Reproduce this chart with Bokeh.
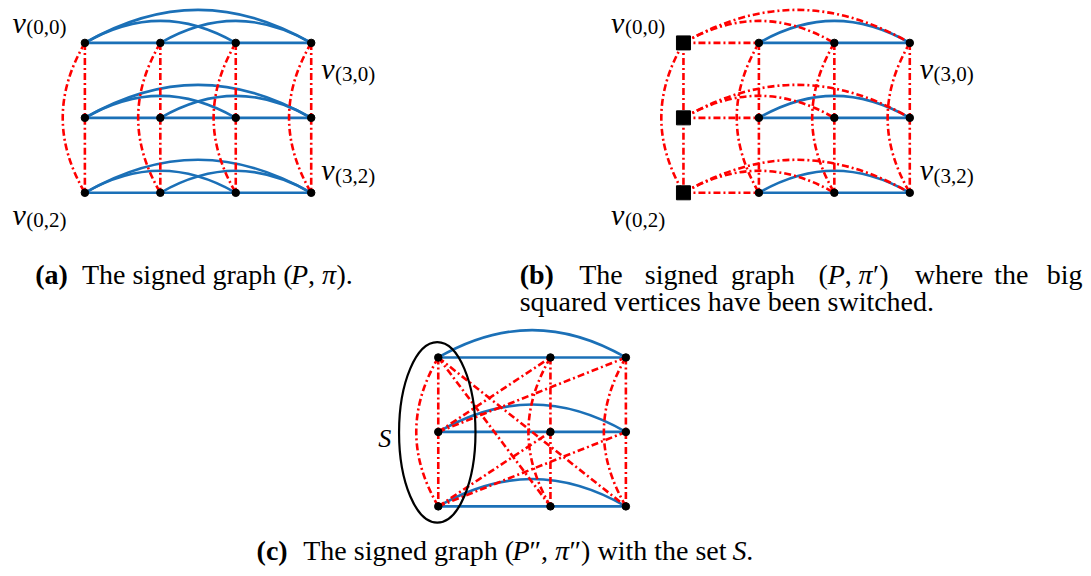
import numpy as np
from bokeh.plotting import figure
from bokeh.models import Range1d
from bokeh.embed import file_html
from bokeh.resources import INLINE
from bokeh.core.properties import value

# ---------------- data ----------------
grid_cols = [0, 1, 2, 3]
grid_rows = [0, 1, 2]
row_lines = [(0, 1), (1, 2), (2, 3)]      # positive row edges drawn straight
row_bends = [(0, 2), (1, 3), (0, 3)]      # positive row edges drawn bent
col_lines = [(0, 1), (1, 2)]              # negative column edges drawn straight
col_bends = [(0, 2)]                      # negative column edge drawn bent
switched_cols = [0]                       # panel (b): switched (squared) vertices
c_cols = [0, 2, 3]                        # panel (c) columns
c_row_lines = [(0, 2), (2, 3)]
c_row_bends = [(0, 3)]
c_cross = [(0, 0, 2, 2), (0, 0, 3, 2), (0, 1, 2, 0),
           (0, 1, 3, 0), (0, 2, 2, 1), (0, 2, 3, 1)]   # (col, row) -> (col, row)
set_cols = [0]
corner_nodes = [(0, 0), (3, 0), (3, 2), (0, 2)]
corner_labels = ["(0,0)", "(3,0)", "(3,2)", "(0,2)"]
set_label = "S"

# ---------------- layout ----------------
A_X0, B_X0, AB_Y0, STEP = 85, 688, 43, 76
C_X = {0: 441, 2: 554, 3: 630}
C_Y0, C_STEP = 362, 75.5
LABEL_OFF = {(0, 0): (-73, -21, -59, -16), (3, 0): (10, 25.5, 24, 32),
             (3, 2): (10, -23.5, 24, -17), (0, 2): (-73, 22, -59, 28)}
BLUE, RED = "#1b70b7", "#ff0000"
LW = 2.6
DASH = "7 3 2 3"
FONT = value("Liberation Serif")

blue_seg, red_seg, blue_bez, red_bez = [], [], [], []


def bend(p0, p1, normal, angle=30.0, loose=0.3915):
    p0 = np.array(p0, float)
    p1 = np.array(p1, float)
    d = p1 - p0
    L = np.hypot(*d)
    u = d / L
    n = np.array(normal, float)
    a = np.radians(angle)
    k = loose * L
    c0 = p0 + k * (np.cos(a) * u + np.sin(a) * n)
    c1 = p1 + k * (-np.cos(a) * u + np.sin(a) * n)
    return (p0[0], p0[1], p1[0], p1[1], c0[0], c0[1], c1[0], c1[1])


def add_edge(p0, p1, positive, bent, normal):
    if bent:
        (blue_bez if positive else red_bez).append(bend(p0, p1, normal))
    else:
        (blue_seg if positive else red_seg).append((p0[0], p0[1], p1[0], p1[1]))


def grid_panel(x0, switched):
    pos = lambda c, r: (x0 + STEP * c, AB_Y0 + STEP * r)
    for r in grid_rows:
        for edges, bent in ((row_lines, False), (row_bends, True)):
            for c1, c2 in edges:
                flip = (c1 in switched) != (c2 in switched)
                add_edge(pos(c1, r), pos(c2, r), not flip, bent, (0, -1))
    for c in grid_cols:
        for edges, bent in ((col_lines, False), (col_bends, True)):
            for r1, r2 in edges:
                add_edge(pos(c, r1), pos(c, r2), False, bent, (-1, 0))
    return pos


pos_a = grid_panel(A_X0, [])
pos_b = grid_panel(B_X0, switched_cols)
pos_c = lambda c, r: (C_X[c], C_Y0 + C_STEP * r)
for r in grid_rows:
    for c1, c2 in c_row_lines:
        add_edge(pos_c(c1, r), pos_c(c2, r), True, False, (0, -1))
    for c1, c2 in c_row_bends:
        add_edge(pos_c(c1, r), pos_c(c2, r), True, True, (0, -1))
for c in c_cols:
    for r1, r2 in col_lines:
        add_edge(pos_c(c, r1), pos_c(c, r2), False, False, (-1, 0))
    for r1, r2 in col_bends:
        add_edge(pos_c(c, r1), pos_c(c, r2), False, True, (-1, 0))
for c1, r1, c2, r2 in c_cross:
    add_edge(pos_c(c1, r1), pos_c(c2, r2), False, False, None)

p = figure(width=1083, height=568, x_range=Range1d(0, 1091), y_range=Range1d(576, 0),
           output_backend="svg", toolbar_location=None, min_border=0,
           x_axis_location=None, y_axis_location=None)
p.grid.visible = False
p.outline_line_color = None


def draw_seg(lst, color, dash):
    a = np.array(lst)
    p.segment(a[:, 0], a[:, 1], a[:, 2], a[:, 3], line_color=color, line_width=LW, line_dash=dash)


def draw_bez(lst, color, dash):
    a = np.array(lst)
    p.bezier(x0=a[:, 0], y0=a[:, 1], x1=a[:, 2], y1=a[:, 3], cx0=a[:, 4], cy0=a[:, 5],
             cx1=a[:, 6], cy1=a[:, 7], line_color=color, line_width=LW, line_dash=dash)


draw_seg(blue_seg, BLUE, "solid")
draw_bez(blue_bez, BLUE, "solid")
draw_seg(red_seg, RED, DASH)
draw_bez(red_bez, RED, DASH)

# set S ellipse
sx = [pos_c(c, 1)[0] - 1 for c in set_cols]
sy = [pos_c(c, 1)[1] + 0.5 for c in set_cols]
p.ellipse(x=sx, y=sy, width=77, height=183, fill_color=None, line_color="black", line_width=2.2)

# vertices
nx, ny = [], []
sqx, sqy = [], []
for pos, sw in ((pos_a, []), (pos_b, switched_cols)):
    for c in grid_cols:
        for r in grid_rows:
            x, y = pos(c, r)
            (sqx if c in sw else nx).append(x)
            (sqy if c in sw else ny).append(y)
for c in c_cols:
    for r in grid_rows:
        x, y = pos_c(c, r)
        nx.append(x)
        ny.append(y)
p.scatter(nx, ny, size=7.5, color="black")
p.scatter(sqx, sqy, marker="square", size=14, color="black")

# vertex labels
vx, vy, sbx, sby, sbt = [], [], [], [], []
for pos in (pos_a, pos_b):
    for node, lab in zip(corner_nodes, corner_labels):
        x, y = pos(*node)
        o = LABEL_OFF[node]
        vx.append(x + o[0]); vy.append(y + o[1])
        sbx.append(x + o[2]); sby.append(y + o[3]); sbt.append(lab)
p.text(vx, vy, text=["v"] * len(vx), text_font=FONT, text_font_style="italic",
       text_font_size="30px", text_baseline="alphabetic", text_align="left", text_color="black")
p.text(sbx, sby, text=sbt, text_font=FONT, text_font_size="21px",
       text_baseline="alphabetic", text_align="left", text_color="black")
p.text([sx[0] - 53], [sy[0] + 6], text=[set_label], text_font=FONT, text_font_style="italic",
       text_font_size="26px", text_baseline="alphabetic", text_align="center", text_color="black")

# captions
W = {' ': 250, '(': 333, ')': 333, ',': 250, '.': 250, 'a': 444, 'b': 500, 'c': 444, 'd': 500,
     'e': 444, 'f': 333, 'g': 500, 'h': 500, 'i': 278, 'j': 278, 'k': 500, 'l': 278, 'm': 778,
     'n': 500, 'o': 500, 'p': 500, 'q': 500, 'r': 333, 's': 389, 't': 278, 'u': 500, 'v': 500,
     'w': 722, 'x': 500, 'y': 500, 'z': 444, 'T': 611, 'P': 611, 'S': 500, '′': 275, '″': 420,
     'π': 520}
CAP = 28
runs_store = {"normal": ([], [], []), "italic": ([], [], []), "bold": ([], [], [])}


def place(x, y, runs):
    for txt, st in runs:
        xs, ys, ts = runs_store[st]
        xs.append(x); ys.append(y); ts.append(txt)
        x += sum(W.get(ch, 500) for ch in txt) / 1000 * CAP * (1.08 if st == "bold" else 1.0)


Y1, Y2, Y3 = 278, 305, 558
place(35, Y1, [("(a)", "bold")])
place(82, Y1, [("The signed graph (", "normal"), ("P", "italic"), (", ", "normal"),
               ("π", "italic"), (").", "normal")])
place(523, Y1, [("(b)", "bold")])
for x, w in zip([583, 649, 736], ["The", "signed", "graph"]):
    place(x, Y1, [(w, "normal")])
place(824, Y1, [("(", "normal"), ("P", "italic"), (", ", "normal"), ("π", "italic"),
                ("′)", "normal")])
for x, w in zip([921, 1001, 1054], ["where", "the", "big"]):
    place(x, Y1, [(w, "normal")])
place(523, Y2, [("squared vertices have been switched.", "normal")])
place(258, Y3, [("(c)", "bold")])
place(305, Y3, [("The signed graph (", "normal"), ("P", "italic"), ("″, ", "normal"),
                ("π", "italic"), ("″) with the set ", "normal"), ("S", "italic"),
                (".", "normal")])
for st, (xs, ys, ts) in runs_store.items():
    p.text(xs, ys, text=ts, text_font=FONT,
           text_font_style=("bold" if st == "bold" else "italic" if st == "italic" else "normal"),
           text_font_size=f"{CAP}px", text_baseline="alphabetic", text_align="left",
           text_color="black")

open("out.html", "w").write(file_html(p, INLINE))
